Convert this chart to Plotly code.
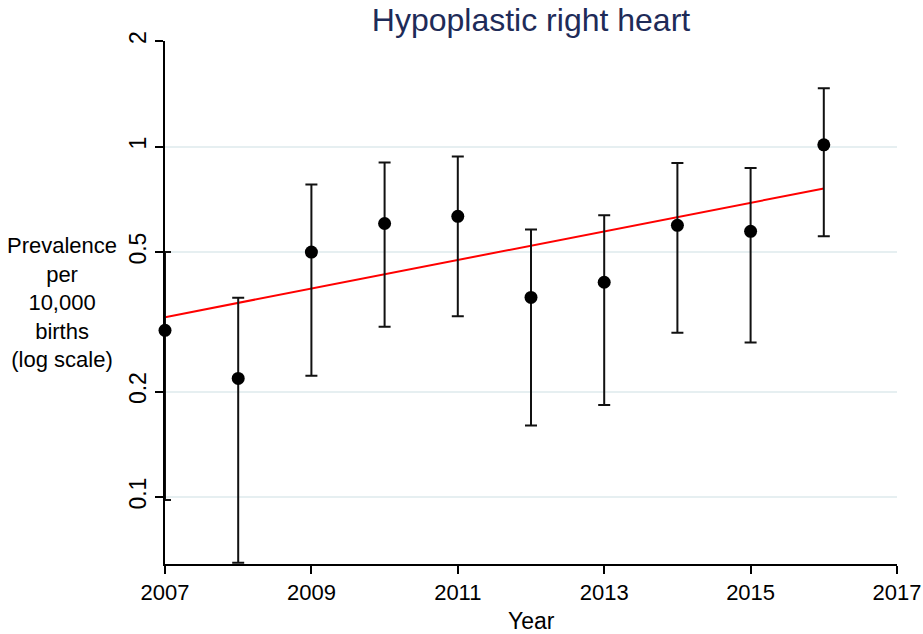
import plotly.graph_objects as go

# Prevalence per 10,000 births, with 95% CI
years = [2007, 2008, 2009, 2010, 2011, 2012, 2013, 2014, 2015, 2016]
prevalence = [0.299, 0.218, 0.50, 0.603, 0.632, 0.371, 0.410, 0.596, 0.573, 1.011]
ci_upper = [0.50, 0.370, 0.779, 0.90, 0.937, 0.580, 0.637, 0.898, 0.869, 1.466]
ci_lower = [0.098, 0.065, 0.222, 0.306, 0.328, 0.160, 0.183, 0.294, 0.276, 0.555]

# fitted trend (endpoints)
trend_years = [2007, 2016]
trend_values = [0.326, 0.759]

y_ticks = [0.1, 0.2, 0.5, 1, 2]
y_ticklabels = ["0.1", "0.2", "0.5", "1", "2"]
x_ticks = [2007, 2009, 2011, 2013, 2015, 2017]

err_plus = [u - p for u, p in zip(ci_upper, prevalence)]
err_minus = [p - l for p, l in zip(prevalence, ci_lower)]

font = "Liberation Sans, Arial, sans-serif"

W, H = 923, 634
L, R, T, B = 165, 26, 41, 70
pw, ph = W - L - R, H - T - B

fig = go.Figure()

fig.add_trace(go.Scatter(
    x=trend_years,
    y=trend_values,
    mode="lines",
    line=dict(color="#ff0000", width=2),
    hoverinfo="skip",
    showlegend=False,
    cliponaxis=False
))

fig.add_trace(go.Scatter(
    x=years,
    y=prevalence,
    mode="markers",
    marker=dict(color="black", size=13),
    error_y=dict(
        type="data",
        symmetric=False,
        array=err_plus,
        arrayminus=err_minus,
        color="#111111",
        thickness=2,
        width=6
    ),
    showlegend=False,
    cliponaxis=False
))

fig.update_layout(
    width=W,
    height=H,
    margin=dict(l=L, r=R, t=T, b=B),
    plot_bgcolor="white",
    paper_bgcolor="white",
    font=dict(family=font, color="black", size=23),
    title=dict(
        text="Hypoplastic right heart",
        x=0.5, xref="paper", xanchor="center",
        y=1 - 20 / H, yanchor="middle",
        font=dict(size=32, color="#1e2b58", family=font)
    ),
    xaxis=dict(
        range=[2007, 2017],
        tickvals=x_ticks,
        ticks="outside",
        ticklen=8,
        tickwidth=1.5,
        tickcolor="black",
        showline=True,
        linecolor="black",
        linewidth=1.5,
        showgrid=False,
        zeroline=False,
        automargin=False,
        tickfont=dict(size=22)
    ),
    yaxis=dict(
        type="log",
        range=[-1.191, 0.301],
        tickvals=y_ticks,
        ticktext=y_ticklabels,
        tickangle=-90,
        ticks="outside",
        ticklen=8,
        tickwidth=1.5,
        tickcolor="black",
        showline=True,
        linecolor="black",
        linewidth=1.5,
        showgrid=True,
        gridcolor="#e6eff1",
        gridwidth=1.5,
        zeroline=False,
        automargin=False,
        tickfont=dict(size=23)
    ),
    annotations=[
        dict(
            text="Prevalence<br>per<br>10,000<br>births<br>(log scale)",
            xref="paper", yref="paper",
            x=(62 - L) / pw, y=(H - B - 302) / ph,
            xanchor="center", yanchor="middle",
            showarrow=False,
            align="center",
            font=dict(size=22)
        ),
        dict(
            text="Year",
            xref="paper", yref="paper",
            x=0.5, y=(H - B - 621) / ph,
            xanchor="center", yanchor="middle",
            showarrow=False,
            font=dict(size=23)
        )
    ]
)

# drop the default page margin so the figure fills the window exactly
fig.write_html(
    "out.html",
    config={"displayModeBar": False},
    post_script="document.body.style.margin='0';"
)
